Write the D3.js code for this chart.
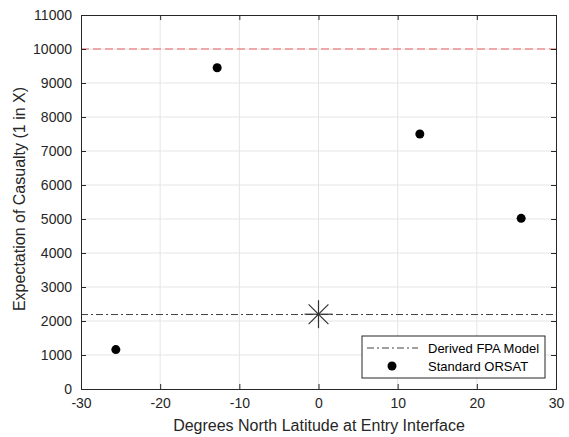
<!DOCTYPE html>
<html><head><meta charset="utf-8">
<script src="https://cdn.jsdelivr.net/npm/d3@7"></script>
<style>body{margin:0;background:#fff;} text{font-family:Arial,"Liberation Sans",Helvetica,sans-serif;}</style>
</head><body><svg id="c" width="569" height="437"></svg>
<script>
const latitudes = [-25.6, -12.8, 12.8, 25.6];
const orsatValues = [1160, 9450, 7500, 5020];
const derivedFPA = 2190;
const derivedPoint = [0, 2200];
const thresholdValue = 10000;
const xTicks = [-30, -20, -10, 0, 10, 20, 30];
const yTicks = [0,1000,2000,3000,4000,5000,6000,7000,8000,9000,10000,11000];
const legendLabels = ["Derived FPA Model", "Standard ORSAT"];

const svg = d3.select("#c");
const L = 81, R = 556, T = 15, B = 389;
const x = d3.scaleLinear().domain([-30, 30]).range([L, R]);
const y = d3.scaleLinear().domain([0, 11000]).range([B, T]);
const axisCol = "#262626";
const fmt = d => String(d);

// grid
const g = svg.append("g");
g.selectAll(".gx").data(xTicks.slice(1,-1)).enter().append("line")
  .attr("x1", d=>x(d)).attr("x2", d=>x(d)).attr("y1", T).attr("y2", B)
  .attr("stroke", "#e5e5e5").attr("stroke-width", 1);
g.selectAll(".gy").data(yTicks.slice(1,-1)).enter().append("line")
  .attr("y1", d=>y(d)).attr("y2", d=>y(d)).attr("x1", L).attr("x2", R)
  .attr("stroke", "#e5e5e5").attr("stroke-width", 1);

// threshold red dashed line
svg.append("line").attr("x1", L).attr("x2", R).attr("y1", y(thresholdValue)).attr("y2", y(thresholdValue))
  .attr("stroke", "#e8615f").attr("stroke-width", 1).attr("stroke-dasharray", "8,4");

// derived FPA dash-dot
svg.append("line").attr("x1", L).attr("x2", R).attr("y1", y(derivedFPA)).attr("y2", y(derivedFPA))
  .attr("stroke", "#404040").attr("stroke-width", 1).attr("stroke-dasharray", "7,3,2,3");

// asterisk marker
const ast = svg.append("g").attr("transform", `translate(${x(derivedPoint[0])},${y(derivedPoint[1])})`);
const r = 14;
[0, 45, 90, 135].forEach(a => {
  const rad = a * Math.PI / 180;
  ast.append("line").attr("x1", -r*Math.cos(rad)).attr("y1", -r*Math.sin(rad))
    .attr("x2", r*Math.cos(rad)).attr("y2", r*Math.sin(rad))
    .attr("stroke", "#333").attr("stroke-width", 1.2);
});

// points
svg.selectAll(".pt").data(latitudes.map((d,i)=>[d, orsatValues[i]])).enter().append("circle")
  .attr("cx", d=>x(d[0])).attr("cy", d=>y(d[1])).attr("r", 4.5).attr("fill", "#000");

// axes
const xAx = svg.append("g").attr("transform", `translate(0,${B})`)
  .call(d3.axisBottom(x).tickValues(xTicks).tickSize(-5).tickPadding(9).tickFormat(fmt));
const xAxTop = svg.append("g").attr("transform", `translate(0,${T})`)
  .call(d3.axisTop(x).tickValues(xTicks).tickSize(-5).tickFormat(""));
const yAx = svg.append("g").attr("transform", `translate(${L},0)`)
  .call(d3.axisLeft(y).tickValues(yTicks).tickSize(-5).tickPadding(9).tickFormat(fmt));
const yAxR = svg.append("g").attr("transform", `translate(${R},0)`)
  .call(d3.axisRight(y).tickValues(yTicks).tickSize(-5).tickFormat(""));
[xAx, xAxTop, yAx, yAxR].forEach(a => {
  a.select(".domain").attr("stroke", axisCol).attr("stroke-width", 1);
  a.selectAll(".tick line").attr("stroke", axisCol);
  a.selectAll(".tick text").attr("fill", axisCol).attr("font-size", 14)
    .style("font-family", "Arial, 'Liberation Sans', sans-serif");
});

// axis labels
svg.append("text").attr("x", 319).attr("y", 431).attr("text-anchor", "middle")
  .attr("font-size", 16).attr("fill", axisCol).text("Degrees North Latitude at Entry Interface");
svg.append("text").attr("transform", `translate(25,199) rotate(-90)`).attr("text-anchor", "middle")
  .attr("font-size", 16).attr("fill", axisCol).text("Expectation of Casualty (1 in X)");

// legend
const lg = svg.append("g");
const lx = 362, ly = 336, lw = 183, lh = 42;
lg.append("rect").attr("x", lx).attr("y", ly).attr("width", lw).attr("height", lh)
  .attr("fill", "#fff").attr("stroke", "#262626").attr("stroke-width", 1);
lg.append("line").attr("x1", lx+5).attr("x2", lx+56).attr("y1", ly+12).attr("y2", ly+12)
  .attr("stroke", "#404040").attr("stroke-dasharray", "7,3,2,3");
lg.append("circle").attr("cx", lx+30).attr("cy", ly+30).attr("r", 4.5).attr("fill", "#000");
lg.selectAll(".lt").data(legendLabels).enter().append("text")
  .attr("x", lx+66).attr("y", (d,i)=> ly+17 + i*18).attr("font-size", 13).attr("fill", "#000").text(d=>d);
</script></body></html>
